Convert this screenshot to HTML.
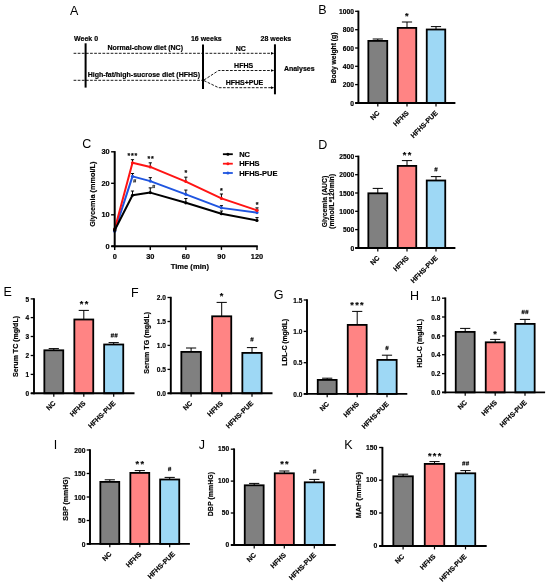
<!DOCTYPE html>
<html><head><meta charset="utf-8"><title>Figure</title>
<style>html,body{margin:0;padding:0;background:#fff;overflow:hidden;}svg{display:block;will-change:transform;font-family:'Liberation Sans', sans-serif;}</style>
</head><body>
<svg width="550" height="587" viewBox="0 0 550 587">
<rect width="550" height="587" fill="#fff"/>
<text x="70.10" y="15.00" font-size="12.5" text-anchor="start" fill="#000">A</text>
<text x="86.10" y="40.70" font-size="7.0" font-weight="bold" stroke="#000" stroke-width="0.18" text-anchor="middle" fill="#000">Week 0</text>
<text x="206.30" y="40.70" font-size="7.0" font-weight="bold" stroke="#000" stroke-width="0.18" text-anchor="middle" fill="#000">16 weeks</text>
<text x="275.90" y="40.60" font-size="7.0" font-weight="bold" stroke="#000" stroke-width="0.18" text-anchor="middle" fill="#000">28 weeks</text>
<line x1="85.60" y1="43.30" x2="85.60" y2="87.60" stroke="#000" stroke-width="2.0" stroke-linecap="butt"/>
<line x1="203.00" y1="44.50" x2="203.00" y2="89.00" stroke="#000" stroke-width="2.0" stroke-linecap="butt"/>
<line x1="274.95" y1="44.30" x2="274.95" y2="94.30" stroke="#000" stroke-width="2.0" stroke-linecap="butt"/>
<line x1="73.60" y1="53.30" x2="271.50" y2="53.30" stroke="#000" stroke-width="0.9" stroke-dasharray="2.7 1.42" stroke-linecap="butt"/>
<line x1="73.60" y1="80.30" x2="203.00" y2="80.30" stroke="#000" stroke-width="0.9" stroke-dasharray="2.7 1.42" stroke-linecap="butt"/>
<polyline points="204.0,80.0 218.6,70.5 271.5,70.5" fill="none" stroke="#000" stroke-width="0.9" stroke-dasharray="2.7 1.42"/>
<polyline points="204.0,80.6 218.6,87.7 271.5,87.7" fill="none" stroke="#000" stroke-width="0.9" stroke-dasharray="2.7 1.42"/>
<polygon points="274.2,53.3 271.0,51.949999999999996 271.0,54.65" fill="#000"/>
<polygon points="274.2,70.5 271.0,69.15 271.0,71.85" fill="#000"/>
<polygon points="274.2,87.7 271.0,86.35000000000001 271.0,89.05" fill="#000"/>
<text x="145.25" y="50.30" font-size="7.0" font-weight="bold" stroke="#000" stroke-width="0.18" text-anchor="middle" fill="#000">Normal-chow diet (NC)</text>
<text x="143.85" y="77.10" font-size="7.0" font-weight="bold" stroke="#000" stroke-width="0.18" text-anchor="middle" fill="#000">High-fat/high-sucrose diet (HFHS)</text>
<text x="240.70" y="50.60" font-size="7.0" font-weight="bold" stroke="#000" stroke-width="0.18" text-anchor="middle" fill="#000">NC</text>
<text x="243.65" y="67.50" font-size="7.0" font-weight="bold" stroke="#000" stroke-width="0.18" text-anchor="middle" fill="#000">HFHS</text>
<text x="244.50" y="84.60" font-size="7.0" font-weight="bold" stroke="#000" stroke-width="0.18" text-anchor="middle" fill="#000">HFHS+PUE</text>
<text x="283.90" y="70.80" font-size="7.0" font-weight="bold" stroke="#000" stroke-width="0.18" text-anchor="start" fill="#000">Analyses</text>
<line x1="377.80" y1="40.80" x2="377.80" y2="39.00" stroke="#000" stroke-width="1.0" stroke-linecap="butt"/>
<line x1="372.70" y1="39.00" x2="382.90" y2="39.00" stroke="#000" stroke-width="1.0" stroke-linecap="butt"/>
<rect x="368.35" y="40.90" width="18.90" height="62.10" fill="#808080" stroke="#000" stroke-width="1.8"/>
<line x1="377.80" y1="103.00" x2="377.80" y2="106.40" stroke="#000" stroke-width="1.2" stroke-linecap="butt"/>
<line x1="407.00" y1="27.80" x2="407.00" y2="22.00" stroke="#000" stroke-width="1.0" stroke-linecap="butt"/>
<line x1="401.90" y1="22.00" x2="412.10" y2="22.00" stroke="#000" stroke-width="1.0" stroke-linecap="butt"/>
<rect x="397.75" y="27.90" width="18.50" height="75.10" fill="#FF8484" stroke="#000" stroke-width="1.8"/>
<line x1="407.00" y1="103.00" x2="407.00" y2="106.40" stroke="#000" stroke-width="1.2" stroke-linecap="butt"/>
<line x1="436.00" y1="29.40" x2="436.00" y2="26.60" stroke="#000" stroke-width="1.0" stroke-linecap="butt"/>
<line x1="430.90" y1="26.60" x2="441.10" y2="26.60" stroke="#000" stroke-width="1.0" stroke-linecap="butt"/>
<rect x="426.75" y="29.50" width="18.50" height="73.50" fill="#9ED8F5" stroke="#000" stroke-width="1.8"/>
<line x1="436.00" y1="103.00" x2="436.00" y2="106.40" stroke="#000" stroke-width="1.2" stroke-linecap="butt"/>
<line x1="358.40" y1="10.60" x2="358.40" y2="103.95" stroke="#000" stroke-width="1.9" stroke-linecap="butt"/>
<line x1="355.20" y1="103.00" x2="455.40" y2="103.00" stroke="#000" stroke-width="1.9" stroke-linecap="butt"/>
<line x1="355.10" y1="11.30" x2="358.40" y2="11.30" stroke="#000" stroke-width="1.3" stroke-linecap="butt"/>
<text x="354.00" y="13.98" font-size="6.7" font-weight="bold" stroke="#000" stroke-width="0.18" text-anchor="end" fill="#000">1000</text>
<line x1="355.10" y1="29.70" x2="358.40" y2="29.70" stroke="#000" stroke-width="1.3" stroke-linecap="butt"/>
<text x="354.00" y="32.38" font-size="6.7" font-weight="bold" stroke="#000" stroke-width="0.18" text-anchor="end" fill="#000">800</text>
<line x1="355.10" y1="48.00" x2="358.40" y2="48.00" stroke="#000" stroke-width="1.3" stroke-linecap="butt"/>
<text x="354.00" y="50.68" font-size="6.7" font-weight="bold" stroke="#000" stroke-width="0.18" text-anchor="end" fill="#000">600</text>
<line x1="355.10" y1="66.30" x2="358.40" y2="66.30" stroke="#000" stroke-width="1.3" stroke-linecap="butt"/>
<text x="354.00" y="68.98" font-size="6.7" font-weight="bold" stroke="#000" stroke-width="0.18" text-anchor="end" fill="#000">400</text>
<line x1="355.10" y1="84.60" x2="358.40" y2="84.60" stroke="#000" stroke-width="1.3" stroke-linecap="butt"/>
<text x="354.00" y="87.28" font-size="6.7" font-weight="bold" stroke="#000" stroke-width="0.18" text-anchor="end" fill="#000">200</text>
<line x1="355.10" y1="103.00" x2="358.40" y2="103.00" stroke="#000" stroke-width="1.3" stroke-linecap="butt"/>
<text x="354.00" y="105.68" font-size="6.7" font-weight="bold" stroke="#000" stroke-width="0.18" text-anchor="end" fill="#000">0</text>
<text x="336.50" y="57.90" font-size="6.77" font-weight="bold" stroke="#000" stroke-width="0.18" text-anchor="middle" fill="#000" transform="rotate(-90 336.50 57.90)">Body weight (g)</text>
<text x="380.10" y="113.50" font-size="6.9" font-weight="bold" stroke="#000" stroke-width="0.18" text-anchor="end" fill="#000" transform="rotate(-45 380.10 113.50)">NC</text>
<text x="409.30" y="113.50" font-size="6.9" font-weight="bold" stroke="#000" stroke-width="0.18" text-anchor="end" fill="#000" transform="rotate(-45 409.30 113.50)">HFHS</text>
<text x="438.30" y="113.50" font-size="6.9" font-weight="bold" stroke="#000" stroke-width="0.18" text-anchor="end" fill="#000" transform="rotate(-45 438.30 113.50)">HFHS-PUE</text>
<text x="406.80" y="18.91" font-size="9.2" font-weight="bold" stroke="#000" stroke-width="0.15" text-anchor="middle" fill="#000">*</text>
<text x="318.30" y="14.40" font-size="12.5" text-anchor="start" fill="#000">B</text>
<line x1="377.80" y1="193.20" x2="377.80" y2="188.40" stroke="#000" stroke-width="1.0" stroke-linecap="butt"/>
<line x1="372.70" y1="188.40" x2="382.90" y2="188.40" stroke="#000" stroke-width="1.0" stroke-linecap="butt"/>
<rect x="368.35" y="193.30" width="18.90" height="54.70" fill="#808080" stroke="#000" stroke-width="1.8"/>
<line x1="377.80" y1="248.00" x2="377.80" y2="251.40" stroke="#000" stroke-width="1.2" stroke-linecap="butt"/>
<line x1="407.00" y1="165.80" x2="407.00" y2="160.60" stroke="#000" stroke-width="1.0" stroke-linecap="butt"/>
<line x1="401.90" y1="160.60" x2="412.10" y2="160.60" stroke="#000" stroke-width="1.0" stroke-linecap="butt"/>
<rect x="397.75" y="165.90" width="18.50" height="82.10" fill="#FF8484" stroke="#000" stroke-width="1.8"/>
<line x1="407.00" y1="248.00" x2="407.00" y2="251.40" stroke="#000" stroke-width="1.2" stroke-linecap="butt"/>
<line x1="436.00" y1="180.40" x2="436.00" y2="176.60" stroke="#000" stroke-width="1.0" stroke-linecap="butt"/>
<line x1="430.90" y1="176.60" x2="441.10" y2="176.60" stroke="#000" stroke-width="1.0" stroke-linecap="butt"/>
<rect x="426.75" y="180.50" width="18.50" height="67.50" fill="#9ED8F5" stroke="#000" stroke-width="1.8"/>
<line x1="436.00" y1="248.00" x2="436.00" y2="251.40" stroke="#000" stroke-width="1.2" stroke-linecap="butt"/>
<line x1="358.40" y1="155.60" x2="358.40" y2="248.95" stroke="#000" stroke-width="1.9" stroke-linecap="butt"/>
<line x1="355.20" y1="248.00" x2="455.40" y2="248.00" stroke="#000" stroke-width="1.9" stroke-linecap="butt"/>
<line x1="355.10" y1="156.40" x2="358.40" y2="156.40" stroke="#000" stroke-width="1.3" stroke-linecap="butt"/>
<text x="354.20" y="159.08" font-size="6.7" font-weight="bold" stroke="#000" stroke-width="0.18" text-anchor="end" fill="#000">2500</text>
<line x1="355.10" y1="174.70" x2="358.40" y2="174.70" stroke="#000" stroke-width="1.3" stroke-linecap="butt"/>
<text x="354.20" y="177.38" font-size="6.7" font-weight="bold" stroke="#000" stroke-width="0.18" text-anchor="end" fill="#000">2000</text>
<line x1="355.10" y1="193.00" x2="358.40" y2="193.00" stroke="#000" stroke-width="1.3" stroke-linecap="butt"/>
<text x="354.20" y="195.68" font-size="6.7" font-weight="bold" stroke="#000" stroke-width="0.18" text-anchor="end" fill="#000">1500</text>
<line x1="355.10" y1="211.30" x2="358.40" y2="211.30" stroke="#000" stroke-width="1.3" stroke-linecap="butt"/>
<text x="354.20" y="213.98" font-size="6.7" font-weight="bold" stroke="#000" stroke-width="0.18" text-anchor="end" fill="#000">1000</text>
<line x1="355.10" y1="229.60" x2="358.40" y2="229.60" stroke="#000" stroke-width="1.3" stroke-linecap="butt"/>
<text x="354.20" y="232.28" font-size="6.7" font-weight="bold" stroke="#000" stroke-width="0.18" text-anchor="end" fill="#000">500</text>
<line x1="355.10" y1="248.00" x2="358.40" y2="248.00" stroke="#000" stroke-width="1.3" stroke-linecap="butt"/>
<text x="354.20" y="250.68" font-size="6.7" font-weight="bold" stroke="#000" stroke-width="0.18" text-anchor="end" fill="#000">0</text>
<text x="326.60" y="201.50" font-size="6.8" font-weight="bold" stroke="#000" stroke-width="0.18" text-anchor="middle" fill="#000" transform="rotate(-90 326.60 201.50)">Glycemia (AUC)</text>
<text x="334.20" y="201.40" font-size="6.8" font-weight="bold" stroke="#000" stroke-width="0.18" text-anchor="middle" fill="#000" transform="rotate(-90 334.20 201.40)">(mmol/L*120min)</text>
<text x="380.10" y="258.50" font-size="6.9" font-weight="bold" stroke="#000" stroke-width="0.18" text-anchor="end" fill="#000" transform="rotate(-45 380.10 258.50)">NC</text>
<text x="409.30" y="258.50" font-size="6.9" font-weight="bold" stroke="#000" stroke-width="0.18" text-anchor="end" fill="#000" transform="rotate(-45 409.30 258.50)">HFHS</text>
<text x="438.30" y="258.50" font-size="6.9" font-weight="bold" stroke="#000" stroke-width="0.18" text-anchor="end" fill="#000" transform="rotate(-45 438.30 258.50)">HFHS-PUE</text>
<text x="404.55" y="157.71" font-size="9.2" font-weight="bold" stroke="#000" stroke-width="0.15" text-anchor="middle" fill="#000">*</text>
<text x="409.45" y="157.71" font-size="9.2" font-weight="bold" stroke="#000" stroke-width="0.15" text-anchor="middle" fill="#000">*</text>
<line x1="435.63" y1="167.25" x2="434.93" y2="171.55" stroke="#000" stroke-width="0.72"/>
<line x1="437.07" y1="167.25" x2="436.37" y2="171.55" stroke="#000" stroke-width="0.72"/>
<line x1="434.35" y1="168.65" x2="437.65" y2="168.65" stroke="#000" stroke-width="0.72"/>
<line x1="434.35" y1="170.15" x2="437.65" y2="170.15" stroke="#000" stroke-width="0.72"/>
<text x="318.30" y="149.30" font-size="12.5" text-anchor="start" fill="#000">D</text>
<line x1="53.80" y1="350.20" x2="53.80" y2="348.60" stroke="#000" stroke-width="1.0" stroke-linecap="butt"/>
<line x1="48.70" y1="348.60" x2="58.90" y2="348.60" stroke="#000" stroke-width="1.0" stroke-linecap="butt"/>
<rect x="44.35" y="350.30" width="18.90" height="43.00" fill="#808080" stroke="#000" stroke-width="1.8"/>
<line x1="53.80" y1="393.30" x2="53.80" y2="396.70" stroke="#000" stroke-width="1.2" stroke-linecap="butt"/>
<line x1="83.80" y1="319.40" x2="83.80" y2="310.40" stroke="#000" stroke-width="1.0" stroke-linecap="butt"/>
<line x1="78.70" y1="310.40" x2="88.90" y2="310.40" stroke="#000" stroke-width="1.0" stroke-linecap="butt"/>
<rect x="74.35" y="319.50" width="18.90" height="73.80" fill="#FF8484" stroke="#000" stroke-width="1.8"/>
<line x1="83.80" y1="393.30" x2="83.80" y2="396.70" stroke="#000" stroke-width="1.2" stroke-linecap="butt"/>
<line x1="113.70" y1="344.40" x2="113.70" y2="342.60" stroke="#000" stroke-width="1.0" stroke-linecap="butt"/>
<line x1="108.60" y1="342.60" x2="118.80" y2="342.60" stroke="#000" stroke-width="1.0" stroke-linecap="butt"/>
<rect x="104.15" y="344.50" width="19.10" height="48.80" fill="#9ED8F5" stroke="#000" stroke-width="1.8"/>
<line x1="113.70" y1="393.30" x2="113.70" y2="396.70" stroke="#000" stroke-width="1.2" stroke-linecap="butt"/>
<line x1="34.00" y1="298.20" x2="34.00" y2="394.25" stroke="#000" stroke-width="1.9" stroke-linecap="butt"/>
<line x1="30.80" y1="393.30" x2="134.50" y2="393.30" stroke="#000" stroke-width="1.9" stroke-linecap="butt"/>
<line x1="30.70" y1="298.90" x2="34.00" y2="298.90" stroke="#000" stroke-width="1.3" stroke-linecap="butt"/>
<text x="29.20" y="301.51" font-size="6.5" font-weight="bold" stroke="#000" stroke-width="0.18" text-anchor="end" fill="#000">5</text>
<line x1="30.70" y1="317.60" x2="34.00" y2="317.60" stroke="#000" stroke-width="1.3" stroke-linecap="butt"/>
<text x="29.20" y="320.21" font-size="6.5" font-weight="bold" stroke="#000" stroke-width="0.18" text-anchor="end" fill="#000">4</text>
<line x1="30.70" y1="336.50" x2="34.00" y2="336.50" stroke="#000" stroke-width="1.3" stroke-linecap="butt"/>
<text x="29.20" y="339.11" font-size="6.5" font-weight="bold" stroke="#000" stroke-width="0.18" text-anchor="end" fill="#000">3</text>
<line x1="30.70" y1="355.50" x2="34.00" y2="355.50" stroke="#000" stroke-width="1.3" stroke-linecap="butt"/>
<text x="29.20" y="358.11" font-size="6.5" font-weight="bold" stroke="#000" stroke-width="0.18" text-anchor="end" fill="#000">2</text>
<line x1="30.70" y1="374.40" x2="34.00" y2="374.40" stroke="#000" stroke-width="1.3" stroke-linecap="butt"/>
<text x="29.20" y="377.01" font-size="6.5" font-weight="bold" stroke="#000" stroke-width="0.18" text-anchor="end" fill="#000">1</text>
<line x1="30.70" y1="393.40" x2="34.00" y2="393.40" stroke="#000" stroke-width="1.3" stroke-linecap="butt"/>
<text x="29.20" y="396.01" font-size="6.5" font-weight="bold" stroke="#000" stroke-width="0.18" text-anchor="end" fill="#000">0</text>
<text x="17.60" y="346.50" font-size="7.06" font-weight="bold" stroke="#000" stroke-width="0.18" text-anchor="middle" fill="#000" transform="rotate(-90 17.60 346.50)">Serum TC (mg/dL)</text>
<text x="56.10" y="403.80" font-size="6.9" font-weight="bold" stroke="#000" stroke-width="0.18" text-anchor="end" fill="#000" transform="rotate(-45 56.10 403.80)">NC</text>
<text x="86.10" y="403.80" font-size="6.9" font-weight="bold" stroke="#000" stroke-width="0.18" text-anchor="end" fill="#000" transform="rotate(-45 86.10 403.80)">HFHS</text>
<text x="116.00" y="403.80" font-size="6.9" font-weight="bold" stroke="#000" stroke-width="0.18" text-anchor="end" fill="#000" transform="rotate(-45 116.00 403.80)">HFHS-PUE</text>
<text x="81.55" y="307.31" font-size="9.2" font-weight="bold" stroke="#000" stroke-width="0.15" text-anchor="middle" fill="#000">*</text>
<text x="86.45" y="307.31" font-size="9.2" font-weight="bold" stroke="#000" stroke-width="0.15" text-anchor="middle" fill="#000">*</text>
<line x1="111.98" y1="333.25" x2="111.28" y2="337.55" stroke="#000" stroke-width="0.72"/>
<line x1="113.42" y1="333.25" x2="112.72" y2="337.55" stroke="#000" stroke-width="0.72"/>
<line x1="110.70" y1="334.65" x2="114.00" y2="334.65" stroke="#000" stroke-width="0.72"/>
<line x1="110.70" y1="336.15" x2="114.00" y2="336.15" stroke="#000" stroke-width="0.72"/>
<line x1="115.68" y1="333.25" x2="114.98" y2="337.55" stroke="#000" stroke-width="0.72"/>
<line x1="117.12" y1="333.25" x2="116.42" y2="337.55" stroke="#000" stroke-width="0.72"/>
<line x1="114.40" y1="334.65" x2="117.70" y2="334.65" stroke="#000" stroke-width="0.72"/>
<line x1="114.40" y1="336.15" x2="117.70" y2="336.15" stroke="#000" stroke-width="0.72"/>
<text x="3.40" y="296.30" font-size="12.5" text-anchor="start" fill="#000">E</text>
<line x1="191.10" y1="351.80" x2="191.10" y2="348.00" stroke="#000" stroke-width="1.0" stroke-linecap="butt"/>
<line x1="186.00" y1="348.00" x2="196.20" y2="348.00" stroke="#000" stroke-width="1.0" stroke-linecap="butt"/>
<rect x="181.35" y="351.90" width="19.50" height="41.40" fill="#808080" stroke="#000" stroke-width="1.8"/>
<line x1="191.10" y1="393.30" x2="191.10" y2="396.70" stroke="#000" stroke-width="1.2" stroke-linecap="butt"/>
<line x1="221.70" y1="316.20" x2="221.70" y2="302.40" stroke="#000" stroke-width="1.0" stroke-linecap="butt"/>
<line x1="216.60" y1="302.40" x2="226.80" y2="302.40" stroke="#000" stroke-width="1.0" stroke-linecap="butt"/>
<rect x="212.15" y="316.30" width="19.10" height="77.00" fill="#FF8484" stroke="#000" stroke-width="1.8"/>
<line x1="221.70" y1="393.30" x2="221.70" y2="396.70" stroke="#000" stroke-width="1.2" stroke-linecap="butt"/>
<line x1="252.00" y1="352.80" x2="252.00" y2="347.60" stroke="#000" stroke-width="1.0" stroke-linecap="butt"/>
<line x1="246.90" y1="347.60" x2="257.10" y2="347.60" stroke="#000" stroke-width="1.0" stroke-linecap="butt"/>
<rect x="242.35" y="352.90" width="19.30" height="40.40" fill="#9ED8F5" stroke="#000" stroke-width="1.8"/>
<line x1="252.00" y1="393.30" x2="252.00" y2="396.70" stroke="#000" stroke-width="1.2" stroke-linecap="butt"/>
<line x1="170.80" y1="296.80" x2="170.80" y2="394.25" stroke="#000" stroke-width="1.9" stroke-linecap="butt"/>
<line x1="167.60" y1="393.30" x2="272.50" y2="393.30" stroke="#000" stroke-width="1.9" stroke-linecap="butt"/>
<line x1="167.50" y1="297.50" x2="170.80" y2="297.50" stroke="#000" stroke-width="1.3" stroke-linecap="butt"/>
<text x="166.00" y="300.14" font-size="6.6" font-weight="bold" stroke="#000" stroke-width="0.18" text-anchor="end" fill="#000">2.0</text>
<line x1="167.50" y1="321.50" x2="170.80" y2="321.50" stroke="#000" stroke-width="1.3" stroke-linecap="butt"/>
<text x="166.00" y="324.14" font-size="6.6" font-weight="bold" stroke="#000" stroke-width="0.18" text-anchor="end" fill="#000">1.5</text>
<line x1="167.50" y1="345.40" x2="170.80" y2="345.40" stroke="#000" stroke-width="1.3" stroke-linecap="butt"/>
<text x="166.00" y="348.04" font-size="6.6" font-weight="bold" stroke="#000" stroke-width="0.18" text-anchor="end" fill="#000">1.0</text>
<line x1="167.50" y1="369.40" x2="170.80" y2="369.40" stroke="#000" stroke-width="1.3" stroke-linecap="butt"/>
<text x="166.00" y="372.04" font-size="6.6" font-weight="bold" stroke="#000" stroke-width="0.18" text-anchor="end" fill="#000">0.5</text>
<line x1="167.50" y1="393.40" x2="170.80" y2="393.40" stroke="#000" stroke-width="1.3" stroke-linecap="butt"/>
<text x="166.00" y="396.04" font-size="6.6" font-weight="bold" stroke="#000" stroke-width="0.18" text-anchor="end" fill="#000">0.0</text>
<text x="149.50" y="342.80" font-size="7.1" font-weight="bold" stroke="#000" stroke-width="0.18" text-anchor="middle" fill="#000" transform="rotate(-90 149.50 342.80)">Serum TG (mg/dL)</text>
<text x="192.80" y="403.80" font-size="6.9" font-weight="bold" stroke="#000" stroke-width="0.18" text-anchor="end" fill="#000" transform="rotate(-45 192.80 403.80)">NC</text>
<text x="223.40" y="403.80" font-size="6.9" font-weight="bold" stroke="#000" stroke-width="0.18" text-anchor="end" fill="#000" transform="rotate(-45 223.40 403.80)">HFHS</text>
<text x="253.70" y="403.80" font-size="6.9" font-weight="bold" stroke="#000" stroke-width="0.18" text-anchor="end" fill="#000" transform="rotate(-45 253.70 403.80)">HFHS-PUE</text>
<text x="221.60" y="298.71" font-size="9.2" font-weight="bold" stroke="#000" stroke-width="0.15" text-anchor="middle" fill="#000">*</text>
<line x1="251.63" y1="337.25" x2="250.93" y2="341.55" stroke="#000" stroke-width="0.72"/>
<line x1="253.07" y1="337.25" x2="252.37" y2="341.55" stroke="#000" stroke-width="0.72"/>
<line x1="250.35" y1="338.65" x2="253.65" y2="338.65" stroke="#000" stroke-width="0.72"/>
<line x1="250.35" y1="340.15" x2="253.65" y2="340.15" stroke="#000" stroke-width="0.72"/>
<text x="131.00" y="296.60" font-size="12.5" text-anchor="start" fill="#000">F</text>
<line x1="327.20" y1="379.80" x2="327.20" y2="378.20" stroke="#000" stroke-width="1.0" stroke-linecap="butt"/>
<line x1="322.10" y1="378.20" x2="332.30" y2="378.20" stroke="#000" stroke-width="1.0" stroke-linecap="butt"/>
<rect x="317.75" y="379.90" width="18.90" height="14.00" fill="#808080" stroke="#000" stroke-width="1.8"/>
<line x1="327.20" y1="393.90" x2="327.20" y2="397.30" stroke="#000" stroke-width="1.2" stroke-linecap="butt"/>
<line x1="357.20" y1="324.80" x2="357.20" y2="311.40" stroke="#000" stroke-width="1.0" stroke-linecap="butt"/>
<line x1="352.10" y1="311.40" x2="362.30" y2="311.40" stroke="#000" stroke-width="1.0" stroke-linecap="butt"/>
<rect x="347.75" y="324.90" width="18.90" height="69.00" fill="#FF8484" stroke="#000" stroke-width="1.8"/>
<line x1="357.20" y1="393.90" x2="357.20" y2="397.30" stroke="#000" stroke-width="1.2" stroke-linecap="butt"/>
<line x1="387.00" y1="359.80" x2="387.00" y2="355.20" stroke="#000" stroke-width="1.0" stroke-linecap="butt"/>
<line x1="381.90" y1="355.20" x2="392.10" y2="355.20" stroke="#000" stroke-width="1.0" stroke-linecap="butt"/>
<rect x="377.35" y="359.90" width="19.30" height="34.00" fill="#9ED8F5" stroke="#000" stroke-width="1.8"/>
<line x1="387.00" y1="393.90" x2="387.00" y2="397.30" stroke="#000" stroke-width="1.2" stroke-linecap="butt"/>
<line x1="307.00" y1="299.20" x2="307.00" y2="394.85" stroke="#000" stroke-width="1.9" stroke-linecap="butt"/>
<line x1="303.80" y1="393.90" x2="407.30" y2="393.90" stroke="#000" stroke-width="1.9" stroke-linecap="butt"/>
<line x1="303.70" y1="300.00" x2="307.00" y2="300.00" stroke="#000" stroke-width="1.3" stroke-linecap="butt"/>
<text x="302.40" y="302.61" font-size="6.5" font-weight="bold" stroke="#000" stroke-width="0.18" text-anchor="end" fill="#000">1.5</text>
<line x1="303.70" y1="331.40" x2="307.00" y2="331.40" stroke="#000" stroke-width="1.3" stroke-linecap="butt"/>
<text x="302.40" y="334.01" font-size="6.5" font-weight="bold" stroke="#000" stroke-width="0.18" text-anchor="end" fill="#000">1.0</text>
<line x1="303.70" y1="362.70" x2="307.00" y2="362.70" stroke="#000" stroke-width="1.3" stroke-linecap="butt"/>
<text x="302.40" y="365.31" font-size="6.5" font-weight="bold" stroke="#000" stroke-width="0.18" text-anchor="end" fill="#000">0.5</text>
<line x1="303.70" y1="394.00" x2="307.00" y2="394.00" stroke="#000" stroke-width="1.3" stroke-linecap="butt"/>
<text x="302.40" y="396.61" font-size="6.5" font-weight="bold" stroke="#000" stroke-width="0.18" text-anchor="end" fill="#000">0.0</text>
<text x="287.50" y="342.30" font-size="6.74" font-weight="bold" stroke="#000" stroke-width="0.18" text-anchor="middle" fill="#000" transform="rotate(-90 287.50 342.30)">LDL-C (mg/dL)</text>
<text x="329.50" y="404.40" font-size="6.9" font-weight="bold" stroke="#000" stroke-width="0.18" text-anchor="end" fill="#000" transform="rotate(-45 329.50 404.40)">NC</text>
<text x="359.50" y="404.40" font-size="6.9" font-weight="bold" stroke="#000" stroke-width="0.18" text-anchor="end" fill="#000" transform="rotate(-45 359.50 404.40)">HFHS</text>
<text x="389.30" y="404.40" font-size="6.9" font-weight="bold" stroke="#000" stroke-width="0.18" text-anchor="end" fill="#000" transform="rotate(-45 389.30 404.40)">HFHS-PUE</text>
<text x="352.10" y="308.31" font-size="9.2" font-weight="bold" stroke="#000" stroke-width="0.15" text-anchor="middle" fill="#000">*</text>
<text x="357.00" y="308.31" font-size="9.2" font-weight="bold" stroke="#000" stroke-width="0.15" text-anchor="middle" fill="#000">*</text>
<text x="361.90" y="308.31" font-size="9.2" font-weight="bold" stroke="#000" stroke-width="0.15" text-anchor="middle" fill="#000">*</text>
<line x1="386.63" y1="345.85" x2="385.93" y2="350.15" stroke="#000" stroke-width="0.72"/>
<line x1="388.07" y1="345.85" x2="387.37" y2="350.15" stroke="#000" stroke-width="0.72"/>
<line x1="385.35" y1="347.25" x2="388.65" y2="347.25" stroke="#000" stroke-width="0.72"/>
<line x1="385.35" y1="348.75" x2="388.65" y2="348.75" stroke="#000" stroke-width="0.72"/>
<text x="273.80" y="299.20" font-size="12.5" text-anchor="start" fill="#000">G</text>
<line x1="465.20" y1="331.80" x2="465.20" y2="328.40" stroke="#000" stroke-width="1.0" stroke-linecap="butt"/>
<line x1="460.10" y1="328.40" x2="470.30" y2="328.40" stroke="#000" stroke-width="1.0" stroke-linecap="butt"/>
<rect x="455.75" y="331.90" width="18.90" height="60.50" fill="#808080" stroke="#000" stroke-width="1.8"/>
<line x1="465.20" y1="392.40" x2="465.20" y2="395.80" stroke="#000" stroke-width="1.2" stroke-linecap="butt"/>
<line x1="495.20" y1="342.20" x2="495.20" y2="339.40" stroke="#000" stroke-width="1.0" stroke-linecap="butt"/>
<line x1="490.10" y1="339.40" x2="500.30" y2="339.40" stroke="#000" stroke-width="1.0" stroke-linecap="butt"/>
<rect x="485.75" y="342.30" width="18.90" height="50.10" fill="#FF8484" stroke="#000" stroke-width="1.8"/>
<line x1="495.20" y1="392.40" x2="495.20" y2="395.80" stroke="#000" stroke-width="1.2" stroke-linecap="butt"/>
<line x1="525.00" y1="323.80" x2="525.00" y2="319.40" stroke="#000" stroke-width="1.0" stroke-linecap="butt"/>
<line x1="519.90" y1="319.40" x2="530.10" y2="319.40" stroke="#000" stroke-width="1.0" stroke-linecap="butt"/>
<rect x="515.35" y="323.90" width="19.30" height="68.50" fill="#9ED8F5" stroke="#000" stroke-width="1.8"/>
<line x1="525.00" y1="392.40" x2="525.00" y2="395.80" stroke="#000" stroke-width="1.2" stroke-linecap="butt"/>
<line x1="445.30" y1="297.40" x2="445.30" y2="393.35" stroke="#000" stroke-width="1.9" stroke-linecap="butt"/>
<line x1="442.10" y1="392.40" x2="545.10" y2="392.40" stroke="#000" stroke-width="1.9" stroke-linecap="butt"/>
<line x1="442.00" y1="298.20" x2="445.30" y2="298.20" stroke="#000" stroke-width="1.3" stroke-linecap="butt"/>
<text x="440.30" y="300.81" font-size="6.5" font-weight="bold" stroke="#000" stroke-width="0.18" text-anchor="end" fill="#000">1.0</text>
<line x1="442.00" y1="317.00" x2="445.30" y2="317.00" stroke="#000" stroke-width="1.3" stroke-linecap="butt"/>
<text x="440.30" y="319.61" font-size="6.5" font-weight="bold" stroke="#000" stroke-width="0.18" text-anchor="end" fill="#000">0.8</text>
<line x1="442.00" y1="335.90" x2="445.30" y2="335.90" stroke="#000" stroke-width="1.3" stroke-linecap="butt"/>
<text x="440.30" y="338.51" font-size="6.5" font-weight="bold" stroke="#000" stroke-width="0.18" text-anchor="end" fill="#000">0.6</text>
<line x1="442.00" y1="354.70" x2="445.30" y2="354.70" stroke="#000" stroke-width="1.3" stroke-linecap="butt"/>
<text x="440.30" y="357.31" font-size="6.5" font-weight="bold" stroke="#000" stroke-width="0.18" text-anchor="end" fill="#000">0.4</text>
<line x1="442.00" y1="373.60" x2="445.30" y2="373.60" stroke="#000" stroke-width="1.3" stroke-linecap="butt"/>
<text x="440.30" y="376.21" font-size="6.5" font-weight="bold" stroke="#000" stroke-width="0.18" text-anchor="end" fill="#000">0.2</text>
<line x1="442.00" y1="392.40" x2="445.30" y2="392.40" stroke="#000" stroke-width="1.3" stroke-linecap="butt"/>
<text x="440.30" y="395.01" font-size="6.5" font-weight="bold" stroke="#000" stroke-width="0.18" text-anchor="end" fill="#000">0.0</text>
<text x="422.50" y="343.30" font-size="6.92" font-weight="bold" stroke="#000" stroke-width="0.18" text-anchor="middle" fill="#000" transform="rotate(-90 422.50 343.30)">HDL-C (mg/dL)</text>
<text x="467.50" y="402.90" font-size="6.9" font-weight="bold" stroke="#000" stroke-width="0.18" text-anchor="end" fill="#000" transform="rotate(-45 467.50 402.90)">NC</text>
<text x="497.50" y="402.90" font-size="6.9" font-weight="bold" stroke="#000" stroke-width="0.18" text-anchor="end" fill="#000" transform="rotate(-45 497.50 402.90)">HFHS</text>
<text x="527.30" y="402.90" font-size="6.9" font-weight="bold" stroke="#000" stroke-width="0.18" text-anchor="end" fill="#000" transform="rotate(-45 527.30 402.90)">HFHS-PUE</text>
<text x="495.00" y="337.31" font-size="9.2" font-weight="bold" stroke="#000" stroke-width="0.15" text-anchor="middle" fill="#000">*</text>
<line x1="522.78" y1="309.85" x2="522.08" y2="314.15" stroke="#000" stroke-width="0.72"/>
<line x1="524.22" y1="309.85" x2="523.52" y2="314.15" stroke="#000" stroke-width="0.72"/>
<line x1="521.50" y1="311.25" x2="524.80" y2="311.25" stroke="#000" stroke-width="0.72"/>
<line x1="521.50" y1="312.75" x2="524.80" y2="312.75" stroke="#000" stroke-width="0.72"/>
<line x1="526.48" y1="309.85" x2="525.78" y2="314.15" stroke="#000" stroke-width="0.72"/>
<line x1="527.92" y1="309.85" x2="527.22" y2="314.15" stroke="#000" stroke-width="0.72"/>
<line x1="525.20" y1="311.25" x2="528.50" y2="311.25" stroke="#000" stroke-width="0.72"/>
<line x1="525.20" y1="312.75" x2="528.50" y2="312.75" stroke="#000" stroke-width="0.72"/>
<text x="410.00" y="300.00" font-size="12.5" text-anchor="start" fill="#000">H</text>
<line x1="109.80" y1="481.80" x2="109.80" y2="479.80" stroke="#000" stroke-width="1.0" stroke-linecap="butt"/>
<line x1="104.70" y1="479.80" x2="114.90" y2="479.80" stroke="#000" stroke-width="1.0" stroke-linecap="butt"/>
<rect x="100.35" y="481.90" width="18.90" height="62.00" fill="#808080" stroke="#000" stroke-width="1.8"/>
<line x1="109.80" y1="543.90" x2="109.80" y2="547.30" stroke="#000" stroke-width="1.2" stroke-linecap="butt"/>
<line x1="139.80" y1="472.80" x2="139.80" y2="470.60" stroke="#000" stroke-width="1.0" stroke-linecap="butt"/>
<line x1="134.70" y1="470.60" x2="144.90" y2="470.60" stroke="#000" stroke-width="1.0" stroke-linecap="butt"/>
<rect x="130.35" y="472.90" width="18.90" height="71.00" fill="#FF8484" stroke="#000" stroke-width="1.8"/>
<line x1="139.80" y1="543.90" x2="139.80" y2="547.30" stroke="#000" stroke-width="1.2" stroke-linecap="butt"/>
<line x1="169.70" y1="479.40" x2="169.70" y2="477.40" stroke="#000" stroke-width="1.0" stroke-linecap="butt"/>
<line x1="164.60" y1="477.40" x2="174.80" y2="477.40" stroke="#000" stroke-width="1.0" stroke-linecap="butt"/>
<rect x="160.15" y="479.50" width="19.10" height="64.40" fill="#9ED8F5" stroke="#000" stroke-width="1.8"/>
<line x1="169.70" y1="543.90" x2="169.70" y2="547.30" stroke="#000" stroke-width="1.2" stroke-linecap="butt"/>
<line x1="90.00" y1="449.20" x2="90.00" y2="544.85" stroke="#000" stroke-width="1.9" stroke-linecap="butt"/>
<line x1="86.80" y1="543.90" x2="189.90" y2="543.90" stroke="#000" stroke-width="1.9" stroke-linecap="butt"/>
<line x1="86.70" y1="450.00" x2="90.00" y2="450.00" stroke="#000" stroke-width="1.3" stroke-linecap="butt"/>
<text x="85.50" y="452.68" font-size="6.7" font-weight="bold" stroke="#000" stroke-width="0.18" text-anchor="end" fill="#000">200</text>
<line x1="86.70" y1="473.50" x2="90.00" y2="473.50" stroke="#000" stroke-width="1.3" stroke-linecap="butt"/>
<text x="85.50" y="476.18" font-size="6.7" font-weight="bold" stroke="#000" stroke-width="0.18" text-anchor="end" fill="#000">150</text>
<line x1="86.70" y1="497.00" x2="90.00" y2="497.00" stroke="#000" stroke-width="1.3" stroke-linecap="butt"/>
<text x="85.50" y="499.68" font-size="6.7" font-weight="bold" stroke="#000" stroke-width="0.18" text-anchor="end" fill="#000">100</text>
<line x1="86.70" y1="520.50" x2="90.00" y2="520.50" stroke="#000" stroke-width="1.3" stroke-linecap="butt"/>
<text x="85.50" y="523.18" font-size="6.7" font-weight="bold" stroke="#000" stroke-width="0.18" text-anchor="end" fill="#000">50</text>
<line x1="86.70" y1="544.00" x2="90.00" y2="544.00" stroke="#000" stroke-width="1.3" stroke-linecap="butt"/>
<text x="85.50" y="546.68" font-size="6.7" font-weight="bold" stroke="#000" stroke-width="0.18" text-anchor="end" fill="#000">0</text>
<text x="68.50" y="498.80" font-size="7.0" font-weight="bold" stroke="#000" stroke-width="0.18" text-anchor="middle" fill="#000" transform="rotate(-90 68.50 498.80)">SBP (mmHG)</text>
<text x="112.10" y="554.40" font-size="6.9" font-weight="bold" stroke="#000" stroke-width="0.18" text-anchor="end" fill="#000" transform="rotate(-45 112.10 554.40)">NC</text>
<text x="142.10" y="554.40" font-size="6.9" font-weight="bold" stroke="#000" stroke-width="0.18" text-anchor="end" fill="#000" transform="rotate(-45 142.10 554.40)">HFHS</text>
<text x="175.50" y="554.40" font-size="6.9" font-weight="bold" stroke="#000" stroke-width="0.18" text-anchor="end" fill="#000" transform="rotate(-45 175.50 554.40)">HFHS-PUE</text>
<text x="137.35" y="466.71" font-size="9.2" font-weight="bold" stroke="#000" stroke-width="0.15" text-anchor="middle" fill="#000">*</text>
<text x="142.25" y="466.71" font-size="9.2" font-weight="bold" stroke="#000" stroke-width="0.15" text-anchor="middle" fill="#000">*</text>
<line x1="169.23" y1="466.85" x2="168.53" y2="471.15" stroke="#000" stroke-width="0.72"/>
<line x1="170.67" y1="466.85" x2="169.97" y2="471.15" stroke="#000" stroke-width="0.72"/>
<line x1="167.95" y1="468.25" x2="171.25" y2="468.25" stroke="#000" stroke-width="0.72"/>
<line x1="167.95" y1="469.75" x2="171.25" y2="469.75" stroke="#000" stroke-width="0.72"/>
<text x="53.80" y="448.60" font-size="12.5" text-anchor="start" fill="#000">I</text>
<line x1="254.20" y1="485.20" x2="254.20" y2="483.40" stroke="#000" stroke-width="1.0" stroke-linecap="butt"/>
<line x1="249.10" y1="483.40" x2="259.30" y2="483.40" stroke="#000" stroke-width="1.0" stroke-linecap="butt"/>
<rect x="244.75" y="485.30" width="18.90" height="59.70" fill="#808080" stroke="#000" stroke-width="1.8"/>
<line x1="254.20" y1="545.00" x2="254.20" y2="548.40" stroke="#000" stroke-width="1.2" stroke-linecap="butt"/>
<line x1="284.30" y1="473.20" x2="284.30" y2="471.00" stroke="#000" stroke-width="1.0" stroke-linecap="butt"/>
<line x1="279.20" y1="471.00" x2="289.40" y2="471.00" stroke="#000" stroke-width="1.0" stroke-linecap="butt"/>
<rect x="274.75" y="473.30" width="19.10" height="71.70" fill="#FF8484" stroke="#000" stroke-width="1.8"/>
<line x1="284.30" y1="545.00" x2="284.30" y2="548.40" stroke="#000" stroke-width="1.2" stroke-linecap="butt"/>
<line x1="314.30" y1="482.20" x2="314.30" y2="479.40" stroke="#000" stroke-width="1.0" stroke-linecap="butt"/>
<line x1="309.20" y1="479.40" x2="319.40" y2="479.40" stroke="#000" stroke-width="1.0" stroke-linecap="butt"/>
<rect x="304.75" y="482.30" width="19.10" height="62.70" fill="#9ED8F5" stroke="#000" stroke-width="1.8"/>
<line x1="314.30" y1="545.00" x2="314.30" y2="548.40" stroke="#000" stroke-width="1.2" stroke-linecap="butt"/>
<line x1="234.10" y1="448.40" x2="234.10" y2="545.95" stroke="#000" stroke-width="1.9" stroke-linecap="butt"/>
<line x1="230.90" y1="545.00" x2="335.80" y2="545.00" stroke="#000" stroke-width="1.9" stroke-linecap="butt"/>
<line x1="230.80" y1="449.20" x2="234.10" y2="449.20" stroke="#000" stroke-width="1.3" stroke-linecap="butt"/>
<text x="229.10" y="451.14" font-size="6.6" font-weight="bold" stroke="#000" stroke-width="0.18" text-anchor="end" fill="#000">150</text>
<line x1="230.80" y1="481.10" x2="234.10" y2="481.10" stroke="#000" stroke-width="1.3" stroke-linecap="butt"/>
<text x="229.10" y="483.04" font-size="6.6" font-weight="bold" stroke="#000" stroke-width="0.18" text-anchor="end" fill="#000">100</text>
<line x1="230.80" y1="513.00" x2="234.10" y2="513.00" stroke="#000" stroke-width="1.3" stroke-linecap="butt"/>
<text x="229.10" y="514.94" font-size="6.6" font-weight="bold" stroke="#000" stroke-width="0.18" text-anchor="end" fill="#000">50</text>
<line x1="230.80" y1="545.00" x2="234.10" y2="545.00" stroke="#000" stroke-width="1.3" stroke-linecap="butt"/>
<text x="229.10" y="546.94" font-size="6.6" font-weight="bold" stroke="#000" stroke-width="0.18" text-anchor="end" fill="#000">0</text>
<text x="213.00" y="494.10" font-size="7.03" font-weight="bold" stroke="#000" stroke-width="0.18" text-anchor="middle" fill="#000" transform="rotate(-90 213.00 494.10)">DBP (mmHG)</text>
<text x="256.50" y="555.50" font-size="6.9" font-weight="bold" stroke="#000" stroke-width="0.18" text-anchor="end" fill="#000" transform="rotate(-45 256.50 555.50)">NC</text>
<text x="286.60" y="555.50" font-size="6.9" font-weight="bold" stroke="#000" stroke-width="0.18" text-anchor="end" fill="#000" transform="rotate(-45 286.60 555.50)">HFHS</text>
<text x="316.60" y="555.50" font-size="6.9" font-weight="bold" stroke="#000" stroke-width="0.18" text-anchor="end" fill="#000" transform="rotate(-45 316.60 555.50)">HFHS-PUE</text>
<text x="281.95" y="466.71" font-size="9.2" font-weight="bold" stroke="#000" stroke-width="0.15" text-anchor="middle" fill="#000">*</text>
<text x="286.85" y="466.71" font-size="9.2" font-weight="bold" stroke="#000" stroke-width="0.15" text-anchor="middle" fill="#000">*</text>
<line x1="314.23" y1="469.25" x2="313.53" y2="473.55" stroke="#000" stroke-width="0.72"/>
<line x1="315.67" y1="469.25" x2="314.97" y2="473.55" stroke="#000" stroke-width="0.72"/>
<line x1="312.95" y1="470.65" x2="316.25" y2="470.65" stroke="#000" stroke-width="0.72"/>
<line x1="312.95" y1="472.15" x2="316.25" y2="472.15" stroke="#000" stroke-width="0.72"/>
<text x="198.70" y="449.00" font-size="12.5" text-anchor="start" fill="#000">J</text>
<line x1="403.10" y1="476.20" x2="403.10" y2="474.20" stroke="#000" stroke-width="1.0" stroke-linecap="butt"/>
<line x1="398.00" y1="474.20" x2="408.20" y2="474.20" stroke="#000" stroke-width="1.0" stroke-linecap="butt"/>
<rect x="393.35" y="476.30" width="19.50" height="69.70" fill="#808080" stroke="#000" stroke-width="1.8"/>
<line x1="403.10" y1="546.00" x2="403.10" y2="549.40" stroke="#000" stroke-width="1.2" stroke-linecap="butt"/>
<line x1="434.50" y1="463.80" x2="434.50" y2="461.60" stroke="#000" stroke-width="1.0" stroke-linecap="butt"/>
<line x1="429.40" y1="461.60" x2="439.60" y2="461.60" stroke="#000" stroke-width="1.0" stroke-linecap="butt"/>
<rect x="424.75" y="463.90" width="19.50" height="82.10" fill="#FF8484" stroke="#000" stroke-width="1.8"/>
<line x1="434.50" y1="546.00" x2="434.50" y2="549.40" stroke="#000" stroke-width="1.2" stroke-linecap="butt"/>
<line x1="465.50" y1="473.20" x2="465.50" y2="470.60" stroke="#000" stroke-width="1.0" stroke-linecap="butt"/>
<line x1="460.40" y1="470.60" x2="470.60" y2="470.60" stroke="#000" stroke-width="1.0" stroke-linecap="butt"/>
<rect x="455.75" y="473.30" width="19.50" height="72.70" fill="#9ED8F5" stroke="#000" stroke-width="1.8"/>
<line x1="465.50" y1="546.00" x2="465.50" y2="549.40" stroke="#000" stroke-width="1.2" stroke-linecap="butt"/>
<line x1="382.40" y1="446.90" x2="382.40" y2="546.95" stroke="#000" stroke-width="1.9" stroke-linecap="butt"/>
<line x1="379.20" y1="546.00" x2="486.70" y2="546.00" stroke="#000" stroke-width="1.9" stroke-linecap="butt"/>
<line x1="379.10" y1="447.50" x2="382.40" y2="447.50" stroke="#000" stroke-width="1.3" stroke-linecap="butt"/>
<text x="377.30" y="449.51" font-size="6.8" font-weight="bold" stroke="#000" stroke-width="0.18" text-anchor="end" fill="#000">150</text>
<line x1="379.10" y1="480.20" x2="382.40" y2="480.20" stroke="#000" stroke-width="1.3" stroke-linecap="butt"/>
<text x="377.30" y="482.21" font-size="6.8" font-weight="bold" stroke="#000" stroke-width="0.18" text-anchor="end" fill="#000">100</text>
<line x1="379.10" y1="513.00" x2="382.40" y2="513.00" stroke="#000" stroke-width="1.3" stroke-linecap="butt"/>
<text x="377.30" y="515.01" font-size="6.8" font-weight="bold" stroke="#000" stroke-width="0.18" text-anchor="end" fill="#000">50</text>
<line x1="379.10" y1="546.00" x2="382.40" y2="546.00" stroke="#000" stroke-width="1.3" stroke-linecap="butt"/>
<text x="377.30" y="548.01" font-size="6.8" font-weight="bold" stroke="#000" stroke-width="0.18" text-anchor="end" fill="#000">0</text>
<text x="360.80" y="495.10" font-size="7.22" font-weight="bold" stroke="#000" stroke-width="0.18" text-anchor="middle" fill="#000" transform="rotate(-90 360.80 495.10)">MAP (mmHG)</text>
<text x="404.70" y="557.00" font-size="6.9" font-weight="bold" stroke="#000" stroke-width="0.18" text-anchor="end" fill="#000" transform="rotate(-45 404.70 557.00)">NC</text>
<text x="436.10" y="557.00" font-size="6.9" font-weight="bold" stroke="#000" stroke-width="0.18" text-anchor="end" fill="#000" transform="rotate(-45 436.10 557.00)">HFHS</text>
<text x="467.10" y="557.00" font-size="6.9" font-weight="bold" stroke="#000" stroke-width="0.18" text-anchor="end" fill="#000" transform="rotate(-45 467.10 557.00)">HFHS-PUE</text>
<text x="429.70" y="458.71" font-size="9.2" font-weight="bold" stroke="#000" stroke-width="0.15" text-anchor="middle" fill="#000">*</text>
<text x="434.60" y="458.71" font-size="9.2" font-weight="bold" stroke="#000" stroke-width="0.15" text-anchor="middle" fill="#000">*</text>
<text x="439.50" y="458.71" font-size="9.2" font-weight="bold" stroke="#000" stroke-width="0.15" text-anchor="middle" fill="#000">*</text>
<line x1="463.38" y1="461.25" x2="462.68" y2="465.55" stroke="#000" stroke-width="0.72"/>
<line x1="464.82" y1="461.25" x2="464.12" y2="465.55" stroke="#000" stroke-width="0.72"/>
<line x1="462.10" y1="462.65" x2="465.40" y2="462.65" stroke="#000" stroke-width="0.72"/>
<line x1="462.10" y1="464.15" x2="465.40" y2="464.15" stroke="#000" stroke-width="0.72"/>
<line x1="467.08" y1="461.25" x2="466.38" y2="465.55" stroke="#000" stroke-width="0.72"/>
<line x1="468.52" y1="461.25" x2="467.82" y2="465.55" stroke="#000" stroke-width="0.72"/>
<line x1="465.80" y1="462.65" x2="469.10" y2="462.65" stroke="#000" stroke-width="0.72"/>
<line x1="465.80" y1="464.15" x2="469.10" y2="464.15" stroke="#000" stroke-width="0.72"/>
<text x="344.20" y="448.60" font-size="12.5" text-anchor="start" fill="#000">K</text>
<line x1="114.70" y1="231.18" x2="114.70" y2="230.24" stroke="#000" stroke-width="1.0" stroke-linecap="butt"/>
<line x1="113.10" y1="230.24" x2="116.30" y2="230.24" stroke="#000" stroke-width="1.0" stroke-linecap="butt"/>
<line x1="132.49" y1="176.37" x2="132.49" y2="173.54" stroke="#000" stroke-width="1.0" stroke-linecap="butt"/>
<line x1="130.89" y1="173.54" x2="134.09" y2="173.54" stroke="#000" stroke-width="1.0" stroke-linecap="butt"/>
<line x1="150.28" y1="181.10" x2="150.28" y2="177.63" stroke="#000" stroke-width="1.0" stroke-linecap="butt"/>
<line x1="148.68" y1="177.63" x2="151.88" y2="177.63" stroke="#000" stroke-width="1.0" stroke-linecap="butt"/>
<line x1="185.85" y1="194.33" x2="185.85" y2="190.07" stroke="#000" stroke-width="1.0" stroke-linecap="butt"/>
<line x1="184.25" y1="190.07" x2="187.45" y2="190.07" stroke="#000" stroke-width="1.0" stroke-linecap="butt"/>
<line x1="221.43" y1="207.87" x2="221.43" y2="205.67" stroke="#000" stroke-width="1.0" stroke-linecap="butt"/>
<line x1="219.83" y1="205.67" x2="223.03" y2="205.67" stroke="#000" stroke-width="1.0" stroke-linecap="butt"/>
<line x1="257.00" y1="212.60" x2="257.00" y2="210.08" stroke="#000" stroke-width="1.0" stroke-linecap="butt"/>
<line x1="255.40" y1="210.08" x2="258.60" y2="210.08" stroke="#000" stroke-width="1.0" stroke-linecap="butt"/>
<polyline points="114.70,231.18 132.49,176.37 150.28,181.10 185.85,194.33 221.43,207.87 257.00,212.60" fill="none" stroke="#1F55E0" stroke-width="2.0" stroke-linejoin="round"/>
<circle cx="114.70" cy="231.18" r="1.55" fill="#1F55E0"/>
<circle cx="132.49" cy="176.37" r="1.55" fill="#1F55E0"/>
<circle cx="150.28" cy="181.10" r="1.55" fill="#1F55E0"/>
<circle cx="185.85" cy="194.33" r="1.55" fill="#1F55E0"/>
<circle cx="221.43" cy="207.87" r="1.55" fill="#1F55E0"/>
<circle cx="257.00" cy="212.60" r="1.55" fill="#1F55E0"/>
<line x1="114.70" y1="229.29" x2="114.70" y2="228.35" stroke="#000" stroke-width="1.0" stroke-linecap="butt"/>
<line x1="113.10" y1="228.35" x2="116.30" y2="228.35" stroke="#000" stroke-width="1.0" stroke-linecap="butt"/>
<line x1="132.49" y1="162.83" x2="132.49" y2="159.68" stroke="#000" stroke-width="1.0" stroke-linecap="butt"/>
<line x1="130.89" y1="159.68" x2="134.09" y2="159.68" stroke="#000" stroke-width="1.0" stroke-linecap="butt"/>
<line x1="150.28" y1="166.92" x2="150.28" y2="162.83" stroke="#000" stroke-width="1.0" stroke-linecap="butt"/>
<line x1="148.68" y1="162.83" x2="151.88" y2="162.83" stroke="#000" stroke-width="1.0" stroke-linecap="butt"/>
<line x1="185.85" y1="181.57" x2="185.85" y2="177.16" stroke="#000" stroke-width="1.0" stroke-linecap="butt"/>
<line x1="184.25" y1="177.16" x2="187.45" y2="177.16" stroke="#000" stroke-width="1.0" stroke-linecap="butt"/>
<line x1="221.43" y1="198.42" x2="221.43" y2="194.01" stroke="#000" stroke-width="1.0" stroke-linecap="butt"/>
<line x1="219.83" y1="194.01" x2="223.03" y2="194.01" stroke="#000" stroke-width="1.0" stroke-linecap="butt"/>
<line x1="257.00" y1="210.39" x2="257.00" y2="207.87" stroke="#000" stroke-width="1.0" stroke-linecap="butt"/>
<line x1="255.40" y1="207.87" x2="258.60" y2="207.87" stroke="#000" stroke-width="1.0" stroke-linecap="butt"/>
<polyline points="114.70,229.29 132.49,162.83 150.28,166.92 185.85,181.57 221.43,198.42 257.00,210.39" fill="none" stroke="#FF1414" stroke-width="2.0" stroke-linejoin="round"/>
<circle cx="114.70" cy="229.29" r="1.55" fill="#FF1414"/>
<circle cx="132.49" cy="162.83" r="1.55" fill="#FF1414"/>
<circle cx="150.28" cy="166.92" r="1.55" fill="#FF1414"/>
<circle cx="185.85" cy="181.57" r="1.55" fill="#FF1414"/>
<circle cx="221.43" cy="198.42" r="1.55" fill="#FF1414"/>
<circle cx="257.00" cy="210.39" r="1.55" fill="#FF1414"/>
<line x1="114.70" y1="230.24" x2="114.70" y2="229.29" stroke="#000" stroke-width="1.0" stroke-linecap="butt"/>
<line x1="113.10" y1="229.29" x2="116.30" y2="229.29" stroke="#000" stroke-width="1.0" stroke-linecap="butt"/>
<line x1="132.49" y1="195.27" x2="132.49" y2="191.02" stroke="#000" stroke-width="1.0" stroke-linecap="butt"/>
<line x1="130.89" y1="191.02" x2="134.09" y2="191.02" stroke="#000" stroke-width="1.0" stroke-linecap="butt"/>
<line x1="150.28" y1="192.59" x2="150.28" y2="187.87" stroke="#000" stroke-width="1.0" stroke-linecap="butt"/>
<line x1="148.68" y1="187.87" x2="151.88" y2="187.87" stroke="#000" stroke-width="1.0" stroke-linecap="butt"/>
<line x1="185.85" y1="202.83" x2="185.85" y2="198.51" stroke="#000" stroke-width="1.0" stroke-linecap="butt"/>
<line x1="184.25" y1="198.51" x2="187.45" y2="198.51" stroke="#000" stroke-width="1.0" stroke-linecap="butt"/>
<line x1="221.43" y1="213.70" x2="221.43" y2="211.02" stroke="#000" stroke-width="1.0" stroke-linecap="butt"/>
<line x1="219.83" y1="211.02" x2="223.03" y2="211.02" stroke="#000" stroke-width="1.0" stroke-linecap="butt"/>
<line x1="257.00" y1="220.47" x2="257.00" y2="217.64" stroke="#000" stroke-width="1.0" stroke-linecap="butt"/>
<line x1="255.40" y1="217.64" x2="258.60" y2="217.64" stroke="#000" stroke-width="1.0" stroke-linecap="butt"/>
<polyline points="114.70,230.24 132.49,195.27 150.28,192.59 185.85,202.83 221.43,213.70 257.00,220.47" fill="none" stroke="#000000" stroke-width="2.0" stroke-linejoin="round"/>
<circle cx="114.70" cy="230.24" r="1.55" fill="#000000"/>
<circle cx="132.49" cy="195.27" r="1.55" fill="#000000"/>
<circle cx="150.28" cy="192.59" r="1.55" fill="#000000"/>
<circle cx="185.85" cy="202.83" r="1.55" fill="#000000"/>
<circle cx="221.43" cy="213.70" r="1.55" fill="#000000"/>
<circle cx="257.00" cy="220.47" r="1.55" fill="#000000"/>
<line x1="114.70" y1="151.10" x2="114.70" y2="247.30" stroke="#000" stroke-width="2.0" stroke-linecap="butt"/>
<line x1="111.30" y1="246.30" x2="257.80" y2="246.30" stroke="#000" stroke-width="2.0" stroke-linecap="butt"/>
<line x1="111.10" y1="151.80" x2="114.70" y2="151.80" stroke="#000" stroke-width="1.4" stroke-linecap="butt"/>
<text x="109.70" y="154.40" font-size="7.4" font-weight="bold" stroke="#000" stroke-width="0.18" text-anchor="end" fill="#000">30</text>
<line x1="111.10" y1="183.30" x2="114.70" y2="183.30" stroke="#000" stroke-width="1.4" stroke-linecap="butt"/>
<text x="109.70" y="185.90" font-size="7.4" font-weight="bold" stroke="#000" stroke-width="0.18" text-anchor="end" fill="#000">20</text>
<line x1="111.10" y1="214.80" x2="114.70" y2="214.80" stroke="#000" stroke-width="1.4" stroke-linecap="butt"/>
<text x="109.70" y="217.40" font-size="7.4" font-weight="bold" stroke="#000" stroke-width="0.18" text-anchor="end" fill="#000">10</text>
<line x1="111.10" y1="246.30" x2="114.70" y2="246.30" stroke="#000" stroke-width="1.4" stroke-linecap="butt"/>
<text x="109.70" y="248.90" font-size="7.4" font-weight="bold" stroke="#000" stroke-width="0.18" text-anchor="end" fill="#000">0</text>
<line x1="114.70" y1="246.30" x2="114.70" y2="249.90" stroke="#000" stroke-width="1.4" stroke-linecap="butt"/>
<text x="114.70" y="258.60" font-size="7.4" font-weight="bold" stroke="#000" stroke-width="0.18" text-anchor="middle" fill="#000">0</text>
<line x1="150.28" y1="246.30" x2="150.28" y2="249.90" stroke="#000" stroke-width="1.4" stroke-linecap="butt"/>
<text x="150.28" y="258.60" font-size="7.4" font-weight="bold" stroke="#000" stroke-width="0.18" text-anchor="middle" fill="#000">30</text>
<line x1="185.85" y1="246.30" x2="185.85" y2="249.90" stroke="#000" stroke-width="1.4" stroke-linecap="butt"/>
<text x="185.85" y="258.60" font-size="7.4" font-weight="bold" stroke="#000" stroke-width="0.18" text-anchor="middle" fill="#000">60</text>
<line x1="221.43" y1="246.30" x2="221.43" y2="249.90" stroke="#000" stroke-width="1.4" stroke-linecap="butt"/>
<text x="221.43" y="258.60" font-size="7.4" font-weight="bold" stroke="#000" stroke-width="0.18" text-anchor="middle" fill="#000">90</text>
<line x1="257.00" y1="246.30" x2="257.00" y2="249.90" stroke="#000" stroke-width="1.4" stroke-linecap="butt"/>
<text x="257.00" y="258.60" font-size="7.4" font-weight="bold" stroke="#000" stroke-width="0.18" text-anchor="middle" fill="#000">120</text>
<text x="189.80" y="268.80" font-size="7.6" font-weight="bold" stroke="#000" stroke-width="0.18" text-anchor="middle" fill="#000">Time (min)</text>
<text x="94.60" y="194.20" font-size="7.3" font-weight="bold" stroke="#000" stroke-width="0.18" text-anchor="middle" fill="#000" transform="rotate(-90 94.60 194.20)">Glycemia (mmol/L)</text>
<text x="82.30" y="148.00" font-size="12.5" text-anchor="start" fill="#000">C</text>
<line x1="222.90" y1="154.20" x2="232.80" y2="154.20" stroke="#000000" stroke-width="1.8" stroke-linecap="butt"/>
<circle cx="227.9" cy="154.2" r="1.5" fill="#000000"/>
<text x="239.20" y="156.70" font-size="7.5" font-weight="bold" stroke="#000" stroke-width="0.18" text-anchor="start" fill="#000">NC</text>
<line x1="222.90" y1="163.70" x2="232.80" y2="163.70" stroke="#FF1414" stroke-width="1.8" stroke-linecap="butt"/>
<circle cx="227.9" cy="163.7" r="1.5" fill="#FF1414"/>
<text x="239.20" y="166.20" font-size="7.5" font-weight="bold" stroke="#000" stroke-width="0.18" text-anchor="start" fill="#000">HFHS</text>
<line x1="222.90" y1="173.00" x2="232.80" y2="173.00" stroke="#1F55E0" stroke-width="1.8" stroke-linecap="butt"/>
<circle cx="227.9" cy="173.0" r="1.5" fill="#1F55E0"/>
<text x="239.20" y="175.50" font-size="7.5" font-weight="bold" stroke="#000" stroke-width="0.18" text-anchor="start" fill="#000">HFHS-PUE</text>
<text x="128.80" y="158.00" font-size="7.0" font-weight="bold" stroke="#000" stroke-width="0.15" text-anchor="middle" fill="#000">*</text>
<text x="132.30" y="158.00" font-size="7.0" font-weight="bold" stroke="#000" stroke-width="0.15" text-anchor="middle" fill="#000">*</text>
<text x="135.80" y="158.00" font-size="7.0" font-weight="bold" stroke="#000" stroke-width="0.15" text-anchor="middle" fill="#000">*</text>
<text x="148.75" y="161.40" font-size="7.0" font-weight="bold" stroke="#000" stroke-width="0.15" text-anchor="middle" fill="#000">*</text>
<text x="152.25" y="161.40" font-size="7.0" font-weight="bold" stroke="#000" stroke-width="0.15" text-anchor="middle" fill="#000">*</text>
<text x="185.80" y="174.50" font-size="7.0" font-weight="bold" stroke="#000" stroke-width="0.15" text-anchor="middle" fill="#000">*</text>
<text x="221.30" y="192.60" font-size="7.0" font-weight="bold" stroke="#000" stroke-width="0.15" text-anchor="middle" fill="#000">*</text>
<text x="257.00" y="207.20" font-size="7.0" font-weight="bold" stroke="#000" stroke-width="0.15" text-anchor="middle" fill="#000">*</text>
<line x1="134.33" y1="179.20" x2="133.63" y2="182.60" stroke="#000" stroke-width="0.6"/>
<line x1="135.77" y1="179.20" x2="135.07" y2="182.60" stroke="#000" stroke-width="0.6"/>
<line x1="133.35" y1="180.15" x2="136.05" y2="180.15" stroke="#000" stroke-width="0.6"/>
<line x1="133.35" y1="181.65" x2="136.05" y2="181.65" stroke="#000" stroke-width="0.6"/>
<line x1="153.33" y1="184.80" x2="152.63" y2="188.20" stroke="#000" stroke-width="0.6"/>
<line x1="154.77" y1="184.80" x2="154.07" y2="188.20" stroke="#000" stroke-width="0.6"/>
<line x1="152.35" y1="185.75" x2="155.05" y2="185.75" stroke="#000" stroke-width="0.6"/>
<line x1="152.35" y1="187.25" x2="155.05" y2="187.25" stroke="#000" stroke-width="0.6"/>
</svg>
</body></html>
